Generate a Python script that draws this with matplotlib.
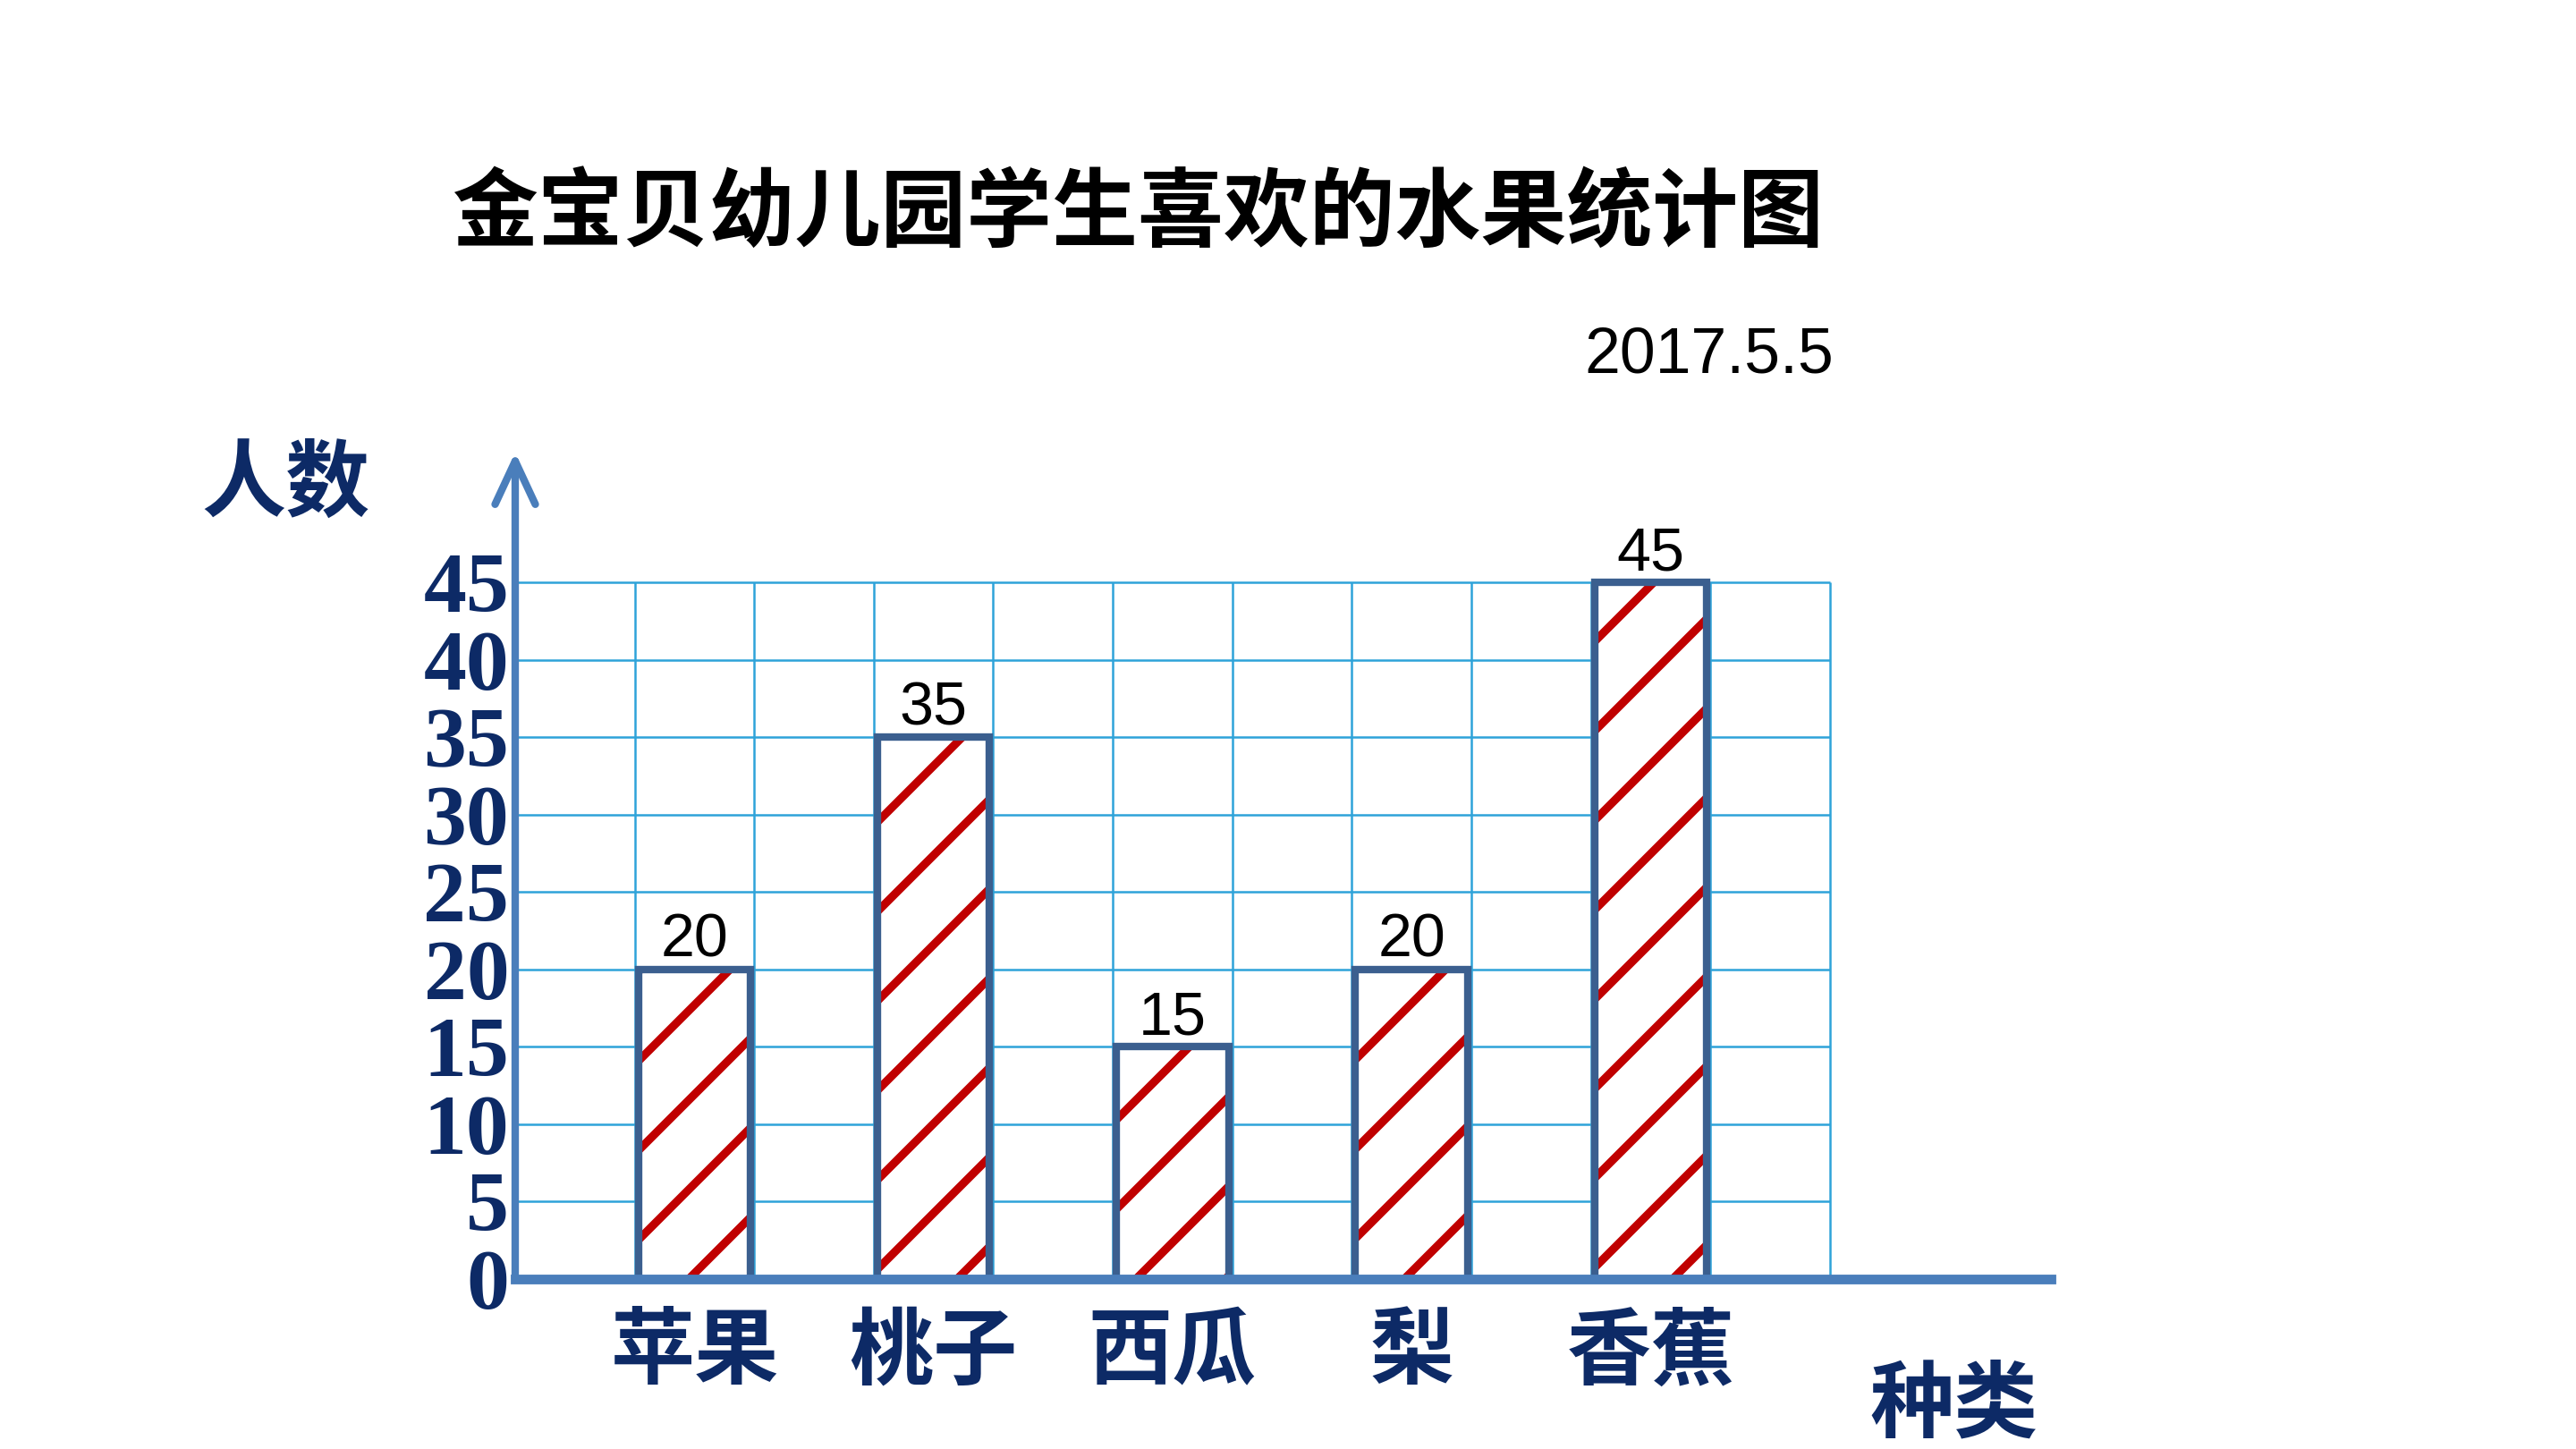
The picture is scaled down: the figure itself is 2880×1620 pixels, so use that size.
import numpy as np
import matplotlib.pyplot as plt

plt.rcParams['font.family'] = ['Noto Sans CJK SC', 'DejaVu Sans']
plt.rcParams['hatch.linewidth'] = 1.1

# data
fruits = ['苹果', '桃子', '西瓜', '梨', '香蕉']
counts = [20, 35, 15, 20, 45]
slots = [1.5, 3.5, 5.5, 7.5, 9.5]   # column centres on the 11-column grid
y_ticks = np.arange(0, 50, 5)

title = '金宝贝幼儿园学生喜欢的水果统计图'
date = '2017.5.5'

navy = '#0d2a66'
axis_blue = '#4a7ebb'
grid_blue = '#2ea3d9'

# high dpi so the hatch tile (1 inch) gives widely spaced stripes
fig = plt.figure(figsize=(4.8, 2.7), dpi=600)
ax = fig.add_axes([0.2, 0.1173, 0.5985, 0.577])
ax.set_xlim(0, 12.9)
ax.set_ylim(0, 54)
for s in ax.spines.values():
    s.set_visible(False)

# grid paper
ax.hlines(y_ticks[1:], 0, 11, color=grid_blue, lw=0.3, zorder=1)
ax.vlines(np.arange(1, 12), 0, 45, color=grid_blue, lw=0.3, zorder=1)

# bars: hatched fill, then the outline on top
ax.bar(slots, counts, width=0.94, color='white', edgecolor='#c00000', lw=0, hatch='//', zorder=2)
ax.bar(slots, counts, width=0.94, fill=False, edgecolor='#3b5f8f', lw=1.0, zorder=3)

for x, c in zip(slots, counts):
    ax.annotate(str(c), (x, c), xytext=(0, 0), textcoords='offset points',
                ha='center', va='bottom', fontsize=8.2, family=['Liberation Sans'], zorder=4)

# axes
ax.spines['bottom'].set_visible(True)
ax.spines['bottom'].set_bounds(0, 12.85)
ax.spines['bottom'].set_color(axis_blue)
ax.spines['bottom'].set_linewidth(1.3)
ax.spines['bottom'].set_zorder(5)
ax.annotate('', xy=(0, 53.4), xytext=(0, 0),
            arrowprops=dict(arrowstyle='->,head_length=0.58,head_width=0.27', mutation_scale=10,
                            color=axis_blue, lw=1.0, shrinkA=0, shrinkB=0),
            annotation_clip=False, zorder=5)

ax.set_yticks(y_ticks)
ax.set_yticklabels([str(v) for v in y_ticks], fontfamily='Liberation Serif',
                   fontweight='bold', fontsize=11.5, color=navy)
ax.tick_params(axis='y', length=0, pad=0.8)

ax.set_xticks(slots)
ax.set_xticklabels(fruits, fontweight='bold', fontsize=11.3, color=navy)
ax.tick_params(axis='x', length=0, pad=4.2)

ax.text(-1.92, 51.3, '人数', ha='center', va='center', fontsize=11.3,
        fontweight='bold', color=navy, clip_on=False)
ax.text(12.04, -8.2, '种类', ha='center', va='center', fontsize=11.3,
        fontweight='bold', color=navy, clip_on=False)

fig.text(1272 / 2880, 1 - 240 / 1620, title, ha='center', va='center',
         fontsize=11.5, fontweight='bold', color='black')
fig.text(2050 / 2880, 1 - 398 / 1620, date, ha='right', va='center',
         fontsize=8.6, family=['Liberation Sans'], color='black')

fig.savefig('out.png', dpi=600, facecolor='white')
